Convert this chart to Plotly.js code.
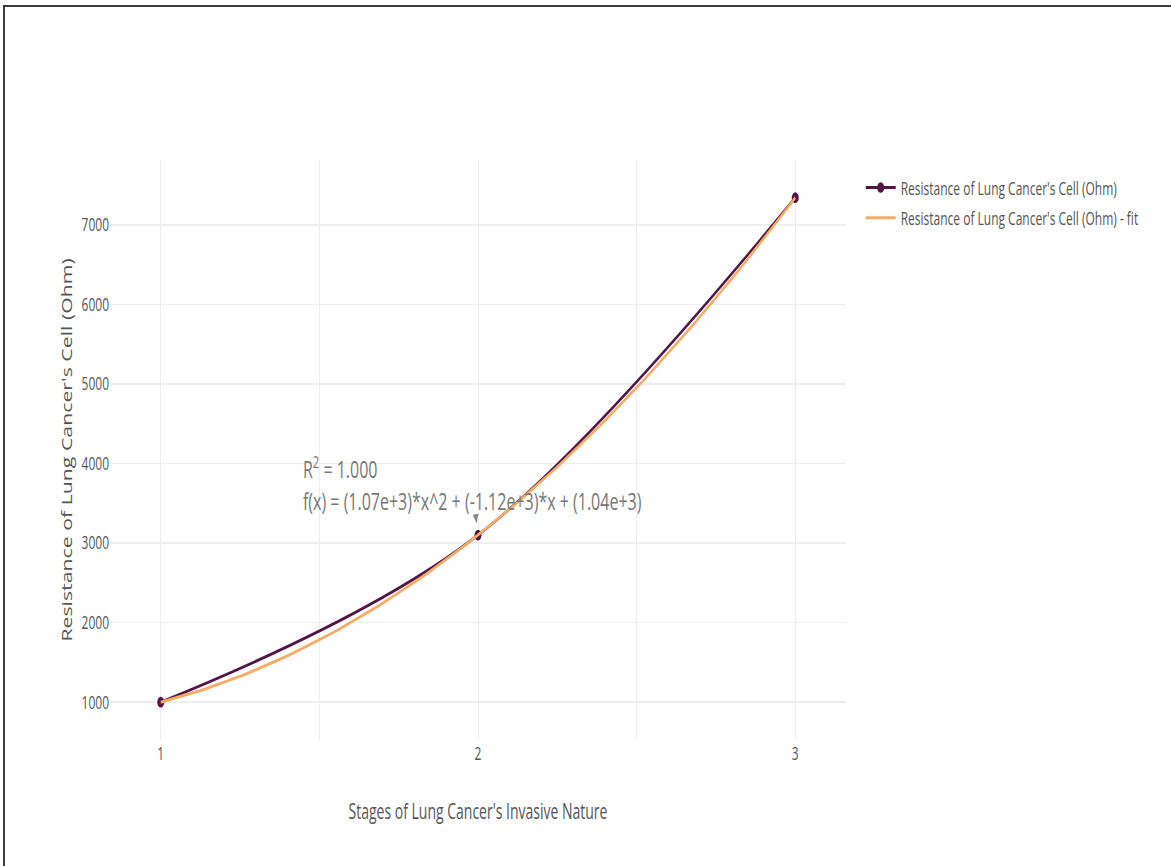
<!DOCTYPE html>
<html>
<head>
<meta charset="utf-8">
<script src="https://cdn.plot.ly/plotly-3.0.1.min.js"></script>
<style>
  html, body { margin: 0; padding: 0; background: #fff; width: 1171px; height: 866px; overflow: hidden; }
  /* the chart is laid out on a shorter canvas and stretched vertically */
  #chart { position: absolute; left: 0; top: 0; width: 1171px; height: 570px;
           transform: scale(1, 1.52); transform-origin: 0 0; }
  #frame { position: absolute; left: 3px; top: 5px; width: 1200px; height: 900px;
           border-top: 2px solid #3c3c3c; border-left: 2px solid #3c3c3c; pointer-events: none; }
</style>
</head>
<body>
<div id="chart"></div>
<div id="frame"></div>
<script>
// Measured cell resistance at each invasive stage
const stages = [1, 2, 3];
const resistance = [1000, 3100, 7344];

const seriesName = "Resistance of Lung Cancer's Cell (Ohm)";
const fitName = "Resistance of Lung Cancer's Cell (Ohm) - fit";
const xTitle = "Stages of Lung Cancer's Invasive Nature";
const yTitle = "Resistance of Lung Cancer's Cell (Ohm)";
const xTickVals = [1, 2, 3];
const yTickVals = [1000, 2000, 3000, 4000, 5000, 6000, 7000];

// least-squares polynomial fit, coefficients from constant term upward
function polyfit(xs, ys, deg) {
  const n = deg + 1;
  const A = [];
  for (let i = 0; i < n; i++) {
    A.push([]);
    for (let j = 0; j < n; j++) {
      let s = 0;
      xs.forEach(x => { s += Math.pow(x, i + j); });
      A[i].push(s);
    }
    let r = 0;
    xs.forEach((x, k) => { r += ys[k] * Math.pow(x, i); });
    A[i].push(r);
  }
  for (let c = 0; c < n; c++) {
    let p = c;
    for (let r = c + 1; r < n; r++) if (Math.abs(A[r][c]) > Math.abs(A[p][c])) p = r;
    [A[c], A[p]] = [A[p], A[c]];
    for (let r = 0; r < n; r++) {
      if (r === c) continue;
      const f = A[r][c] / A[c][c];
      for (let k = c; k <= n; k++) A[r][k] -= f * A[c][k];
    }
  }
  return A.map((row, i) => row[n] / row[i]);
}

const coef = polyfit(stages, resistance, 2);
const model = x => coef[0] + coef[1] * x + coef[2] * x * x;

const meanY = resistance.reduce((a, b) => a + b, 0) / resistance.length;
let ssRes = 0, ssTot = 0;
stages.forEach((x, i) => {
  ssRes += Math.pow(resistance[i] - model(x), 2);
  ssTot += Math.pow(resistance[i] - meanY, 2);
});
const r2 = 1 - ssRes / ssTot;

// fitted curve evaluated across the stage range
const fitX = [], fitY = [];
const x0 = Math.min(...stages), x1 = Math.max(...stages);
for (let i = 0; i <= 100; i++) {
  const x = x0 + (x1 - x0) * i / 100;
  fitX.push(x);
  fitY.push(model(x));
}

const fmt = v => v.toExponential(2);
const fitLabel = 'R<sup>2</sup> = ' + r2.toFixed(3) + '<br>' +
  'f(x) = (' + fmt(coef[2]) + ')*x^2 + (' + fmt(coef[1]) + ')*x + (' + fmt(coef[0]) + ')';

const dataTrace = {
  x: stages, y: resistance, name: seriesName, legendgroup: 'data',
  type: 'scatter', mode: 'lines+markers',
  line: { color: 'rgb(82, 22, 68)', width: 2, shape: 'spline' },
  marker: { color: 'rgb(82, 22, 68)', size: 7 }
};
const fitTrace = {
  x: fitX, y: fitY, name: fitName, legendgroup: 'fit',
  type: 'scatter', mode: 'lines',
  line: { color: 'rgb(246, 172, 100)', width: 2 }
};

const layout = {
  width: 1171, height: 570,
  margin: { l: 110, r: 325, t: 105, b: 83 },
  paper_bgcolor: 'rgba(0,0,0,0)', plot_bgcolor: '#fff',
  font: { family: 'Open Sans, sans-serif', size: 12, color: '#555' },
  showlegend: true,
  legend: { x: 1.02, y: 0.99, tracegroupgap: 1, font: { size: 12, color: '#555' } },
  xaxis: {
    range: [0.84, 3.16], tickvals: xTickVals, ticktext: xTickVals.map(String),
    showgrid: true, gridcolor: '#eeeeee', zeroline: false, showline: false,
    minor: { dtick: 0.5, showgrid: true, gridcolor: '#eeeeee' },
    title: { text: xTitle, font: { size: 14, color: '#555' } }
  },
  yaxis: {
    range: [521, 7823], tickvals: yTickVals, ticktext: yTickVals.map(String),
    showgrid: true, gridcolor: '#eeeeee', zeroline: false, showline: false,
    title: { text: yTitle, font: { size: 14, color: '#555' } }
  },
  annotations: [{
    x: stages[1], y: resistance[1], xref: 'x', yref: 'y',
    text: fitLabel, showarrow: true, ax: -6, ay: -34, standoff: 8,
    arrowhead: 2, arrowsize: 1, arrowwidth: 1.2, arrowcolor: '#888',
    align: 'left', font: { size: 16, color: '#777' }
  }]
};

Plotly.newPlot('chart', [dataTrace, fitTrace], layout, { displayModeBar: false, staticPlot: true });
</script>
</body>
</html>
